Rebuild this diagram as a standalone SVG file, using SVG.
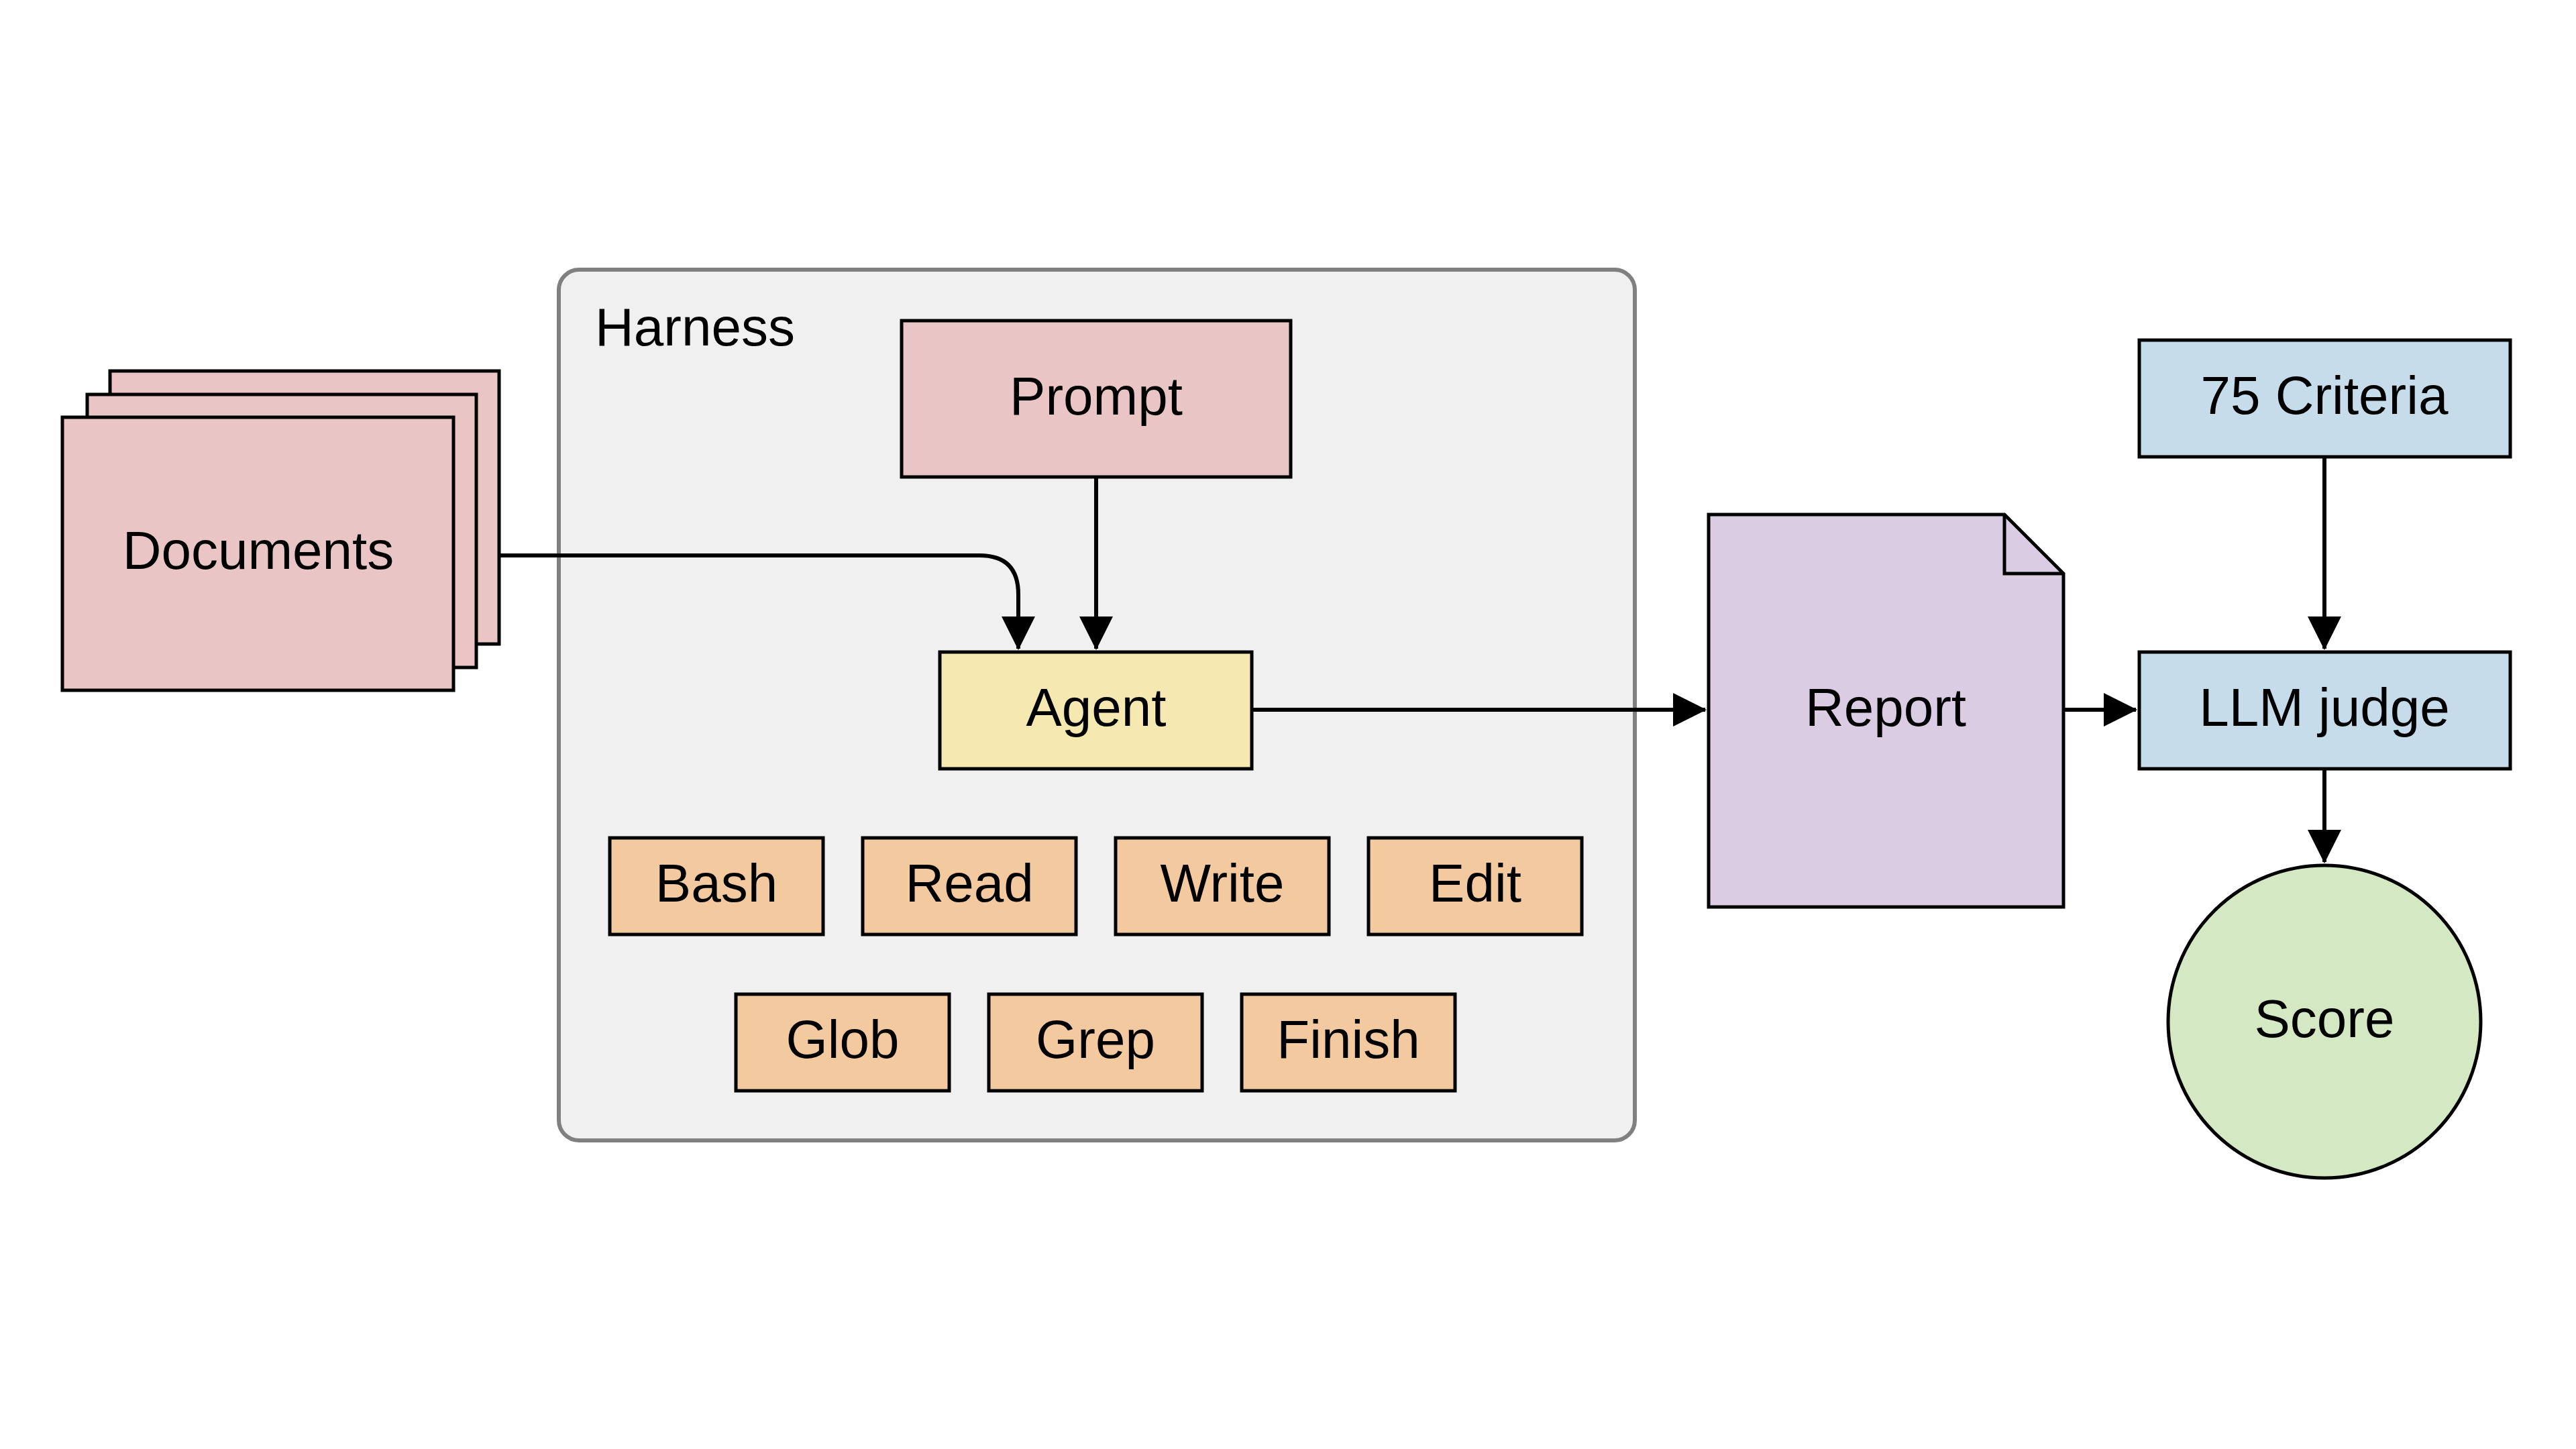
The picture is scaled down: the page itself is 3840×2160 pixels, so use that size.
<svg xmlns="http://www.w3.org/2000/svg" width="3840" height="2160" viewBox="0 0 3840 2160">
<style>
.n{stroke:#000;stroke-width:5}
.t{font-family:"Liberation Sans",Arial,sans-serif;font-size:80px;text-anchor:middle;dominant-baseline:central;fill:#000}
.pink{fill:#eac5c5}.tool{fill:#f3c9a0}.blue{fill:#c6dceb}
.c{fill:none;stroke:#000;stroke-width:6}
</style>
<defs>
<marker id="a" markerUnits="userSpaceOnUse" markerWidth="50" markerHeight="50" refX="48" refY="25" orient="auto">
<path d="M0,0 L50,25 L0,50 Z" fill="#000"/>
</marker>
</defs>
<rect width="3840" height="2160" fill="#fff"/>
<g id="harness">
<rect x="833" y="402" width="1604" height="1298" rx="30" fill="#f0f0f0" stroke="#808080" stroke-width="6"/>
<text x="887" y="487" class="t" style="text-anchor:start">Harness</text>
</g>
<g id="documents">
<rect class="n pink" x="164" y="553" width="580" height="407"/>
<rect class="n pink" x="130" y="588" width="580" height="407"/>
<rect class="n pink" x="93" y="622" width="583" height="407"/>
<text class="t" x="385" y="820">Documents</text>
</g>
<g id="prompt"><rect class="n pink" x="1344" y="478" width="580" height="233"/><text class="t" x="1634" y="590">Prompt</text></g>
<g id="agent"><rect class="n" fill="#f5e8b0" x="1401" y="972" width="465" height="174"/><text class="t" x="1634" y="1054">Agent</text></g>
<g id="bash"><rect class="n tool" x="909" y="1249" width="318" height="144"/><text class="t" x="1068" y="1316">Bash</text></g>
<g id="read"><rect class="n tool" x="1286" y="1249" width="318" height="144"/><text class="t" x="1445" y="1316">Read</text></g>
<g id="write"><rect class="n tool" x="1663" y="1249" width="318" height="144"/><text class="t" x="1822" y="1316">Write</text></g>
<g id="edit"><rect class="n tool" x="2040" y="1249" width="318" height="144"/><text class="t" x="2199" y="1316">Edit</text></g>
<g id="glob"><rect class="n tool" x="1097" y="1482" width="318" height="144"/><text class="t" x="1256" y="1549">Glob</text></g>
<g id="grep"><rect class="n tool" x="1474" y="1482" width="318" height="144"/><text class="t" x="1633" y="1549">Grep</text></g>
<g id="finish"><rect class="n tool" x="1851" y="1482" width="318" height="144"/><text class="t" x="2010" y="1549">Finish</text></g>
<g id="report">
<path class="n" fill="#d9cce3" d="M2547,767 H2988 L3076,855 V1352 H2547 Z"/>
<path d="M2988,767 V855 H3076" fill="none" stroke="#000" stroke-width="5"/>
<text class="t" x="2811" y="1054">Report</text>
</g>
<g id="criteria"><rect class="n blue" x="3189" y="507" width="553" height="174"/><text class="t" x="3465" y="589">75 Criteria</text></g>
<g id="judge"><rect class="n blue" x="3189" y="972" width="553" height="174"/><text class="t" x="3465" y="1054">LLM judge</text></g>
<g id="score"><circle class="n" fill="#d5e8c4" cx="3465" cy="1523" r="233"/><text class="t" x="3465" y="1518">Score</text></g>
<g id="connectors">
<path class="c" marker-end="url(#a)" d="M744,828 H1460 Q1518,828 1518,886 V967"/>
<path class="c" marker-end="url(#a)" d="M1634,711 V967"/>
<path class="c" marker-end="url(#a)" d="M1866,1058 H2542"/>
<path class="c" marker-end="url(#a)" d="M3076,1058 H3184"/>
<path class="c" marker-end="url(#a)" d="M3465,681 V967"/>
<path class="c" marker-end="url(#a)" d="M3465,1146 V1285"/>
</g>
</svg>
